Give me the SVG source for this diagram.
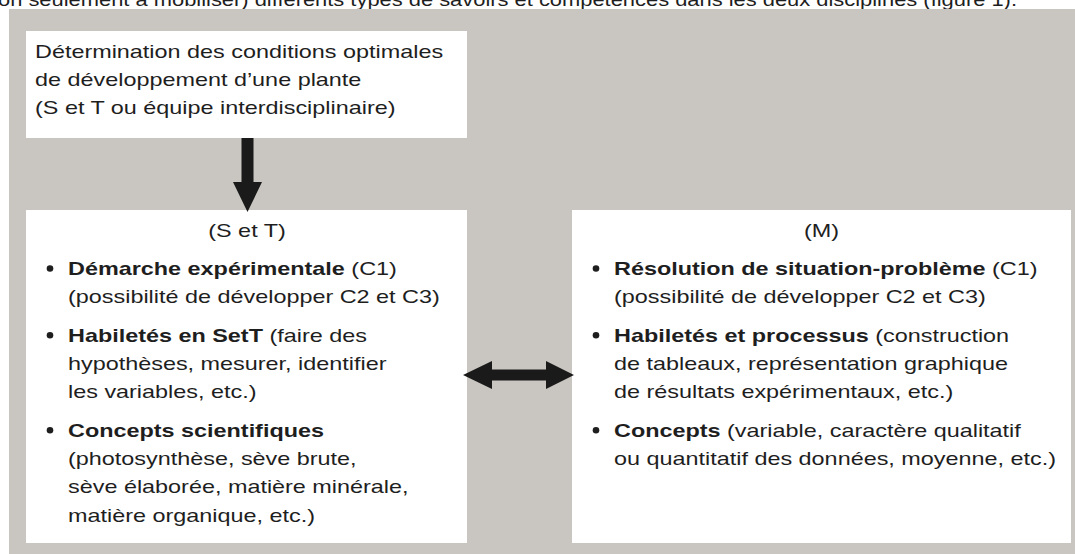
<svg xmlns="http://www.w3.org/2000/svg" width="1075" height="554" viewBox="0 0 1075 554">
<style>
  text { font-family: "Liberation Sans", Arial, sans-serif; font-size: 19px; fill: #1e1e1e; }
  .b { font-weight: bold; }
  .box { fill: #ffffff; }
  .bg { fill: #c9c5c0; }
  .arrow { fill: #1a1a1a; }
  .dot { fill: #1e1e1e; }
</style>
<rect x="0" y="0" width="1075" height="554" fill="#ffffff"/>
<g id="caption">
  <text x="-2" y="6" textLength="1019" lengthAdjust="spacingAndGlyphs">on seulement à mobiliser) différents types de savoirs et compétences dans les deux disciplines (figure 1).</text>
</g>
<rect class="bg" x="9" y="9" width="1066" height="545"/>
<g id="node-top">
  <rect class="box" x="26" y="31" width="441" height="107"/>
  <text transform="translate(35,57.5) scale(1.232,1)">Détermination des conditions optimales</text>
  <text transform="translate(35,86) scale(1.232,1)">de développement d’une plante</text>
  <text transform="translate(35,114) scale(1.232,1)">(S et T ou équipe interdisciplinaire)</text>
</g>
<g id="node-st">
  <rect class="box" x="26" y="210" width="441" height="333"/>
  <text text-anchor="middle" transform="translate(247,237) scale(1.232,1)">(S et T)</text>
  <circle class="dot" cx="50" cy="268.5" r="3.3"/>
  <text transform="translate(68,275) scale(1.232,1)"><tspan class="b">Démarche expérimentale</tspan> (C1)</text>
  <text transform="translate(68,303.3) scale(1.232,1)">(possibilité de développer C2 et C3)</text>
  <circle class="dot" cx="50" cy="335.2" r="3.3"/>
  <text transform="translate(68,341.7) scale(1.232,1)"><tspan class="b">Habiletés en SetT</tspan> (faire des</text>
  <text transform="translate(68,370) scale(1.232,1)">hypothèses, mesurer, identifier</text>
  <text transform="translate(68,398.3) scale(1.232,1)">les variables, etc.)</text>
  <circle class="dot" cx="50" cy="430.2" r="3.3"/>
  <text transform="translate(68,436.7) scale(1.232,1)"><tspan class="b">Concepts scientifiques</tspan></text>
  <text transform="translate(68,465) scale(1.232,1)">(photosynthèse, sève brute,</text>
  <text transform="translate(68,493.3) scale(1.232,1)">sève élaborée, matière minérale,</text>
  <text transform="translate(68,521.7) scale(1.232,1)">matière organique, etc.)</text>
</g>
<g id="node-m">
  <rect class="box" x="572" y="210" width="499" height="333"/>
  <text text-anchor="middle" transform="translate(821.5,237) scale(1.232,1)">(M)</text>
  <circle class="dot" cx="596" cy="268.5" r="3.3"/>
  <text transform="translate(614,275) scale(1.232,1)"><tspan class="b">Résolution de situation-problème</tspan> (C1)</text>
  <text transform="translate(614,303.3) scale(1.232,1)">(possibilité de développer C2 et C3)</text>
  <circle class="dot" cx="596" cy="335.2" r="3.3"/>
  <text transform="translate(614,341.7) scale(1.232,1)"><tspan class="b">Habiletés et processus</tspan> (construction</text>
  <text transform="translate(614,370) scale(1.232,1)">de tableaux, représentation graphique</text>
  <text transform="translate(614,398.3) scale(1.232,1)">de résultats expérimentaux, etc.)</text>
  <circle class="dot" cx="596" cy="430.2" r="3.3"/>
  <text transform="translate(614,436.7) scale(1.232,1)"><tspan class="b">Concepts</tspan> (variable, caractère qualitatif</text>
  <text transform="translate(614,465) scale(1.232,1)">ou quantitatif des données, moyenne, etc.)</text>
</g>
<g id="connectors">
  <polygon class="arrow" points="241.5,138 253.5,138 253.5,182 262,182 247.5,212 233,182 241.5,182"/>
  <polygon class="arrow" points="463,375 492,361 492,369.5 546,369.5 546,361 574,375 546,389 546,380.5 492,380.5 492,389"/>
</g>
</svg>
